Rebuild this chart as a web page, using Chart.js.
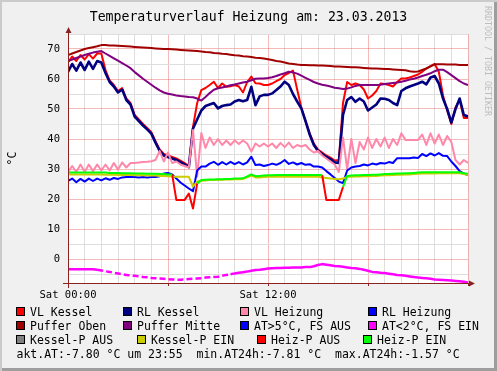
<!DOCTYPE html>
<html>
<head>
<meta charset="utf-8">
<script src="https://cdn.jsdelivr.net/npm/chart.js@4/dist/chart.umd.min.js"></script>
<style>
body { margin: 0; background: #f0f0f0; }
#wrap { position: relative; width: 497px; height: 371px; background: #f0f0f0;
  box-shadow: inset 2px 2px 0 #cbcbcb, inset -3px -3px 0 #9e9e9e;
  font-family: "DejaVu Sans Mono", monospace; color: #000; overflow: hidden; }
#chart { position: absolute; left: 0; top: 0; }
#title { position: absolute; left: 0; top: 9.7px; width: 497px; text-align: center;
  font-size: 13.2px; line-height: 14px; white-space: pre; }
#mark { position: absolute; left: 483px; top: 6px; writing-mode: vertical-rl;
  font-size: 8.3px; line-height: 9px; color: #bdbdbd; white-space: pre; }
.item { position: absolute; font-size: 11.5px; line-height: 12px; white-space: pre; }
.sw { position: absolute; width: 7px; height: 7px; border: 1px solid #000; }
</style>
</head>
<body>
<div id="wrap">
  <canvas id="chart" width="497" height="371"></canvas>
  <div id="title">Temperaturverlauf Heizung am: 23.03.2013</div>
  <div id="mark">RRDTOOL / TOBI OETIKER</div>
  <div id="legend"></div>
</div>
<script>
// Stunden 0..24 im 15-Minuten-Raster
const hours = Array.from({ length: 97 }, (_, i) => i / 4);

const vlKessel = [65.5, 67.5, 66.0, 68.0, 66.5, 68.3, 66.8, 68.5,
  68.5, 63.0, 59.5, 58.0, 56.0, 57.0, 53.5, 52.0,
  48.0, 46.5, 45.0, 43.7, 42.3, 39.3, 36.5, 35.0,
  34.5, 34.0, 33.5, 32.8, 32.0, 31.0, 44.0, 52.0,
  56.3, 57.0, 58.0, 59.1, 57.0, 58.5, 57.4, 57.6,
  58.0, 57.5, 55.5, 59.0, 60.8, 58.6, 58.5, 58.0,
  58.0, 58.5, 59.3, 60.0, 61.3, 62.0, 62.8, 56.5,
  50.5, 46.0, 42.0, 38.5, 36.5, 35.5, 34.5, 33.8,
  32.8, 33.0, 52.0, 59.0, 58.0, 58.5, 58.0, 56.5,
  53.5, 54.5, 56.0, 58.5, 58.3, 58.0, 57.5, 59.0,
  60.2, 60.2, 60.5, 61.0, 61.5, 62.4, 63.5, 64.3,
  65.0, 62.4, 54.5, 49.5, 45.0, 50.5, 53.0, 47.0,
  47.0];

const rlKessel = [62.4, 65.0, 62.8, 65.5, 63.0, 65.8, 63.4, 66.0,
  65.5, 62.0, 59.0, 57.5, 55.5, 56.5, 53.0, 51.5,
  47.5, 46.0, 44.5, 43.2, 41.8, 38.8, 36.0, 34.5,
  34.0, 33.5, 33.0, 32.3, 31.5, 30.6, 43.5, 46.5,
  49.5, 51.0, 51.5, 52.0, 50.2, 51.0, 51.3, 51.5,
  52.5, 53.0, 52.6, 53.0, 57.4, 51.3, 54.2, 54.7,
  54.7, 55.2, 56.3, 57.5, 59.1, 58.0, 55.0, 52.5,
  50.2, 46.0, 41.5, 38.0, 36.0, 35.0, 34.0, 33.3,
  32.2, 32.0, 48.0, 53.0, 54.0, 52.4, 53.5, 52.5,
  49.5, 50.5, 51.5, 53.5, 53.4, 53.0, 52.0, 51.3,
  56.0, 56.9, 57.5, 58.0, 58.5, 59.1, 58.2, 60.5,
  61.0, 58.5, 53.5, 50.0, 45.5, 50.0, 53.5, 48.0,
  47.5];

const vlHeizung = [29.0, 31.0, 29.0, 31.5, 29.0, 31.5, 29.3, 31.5,
  29.5, 31.5, 29.5, 32.0, 29.8, 32.2, 30.5, 32.0,
  32.0, 32.2, 32.3, 32.4, 32.6, 33.0, 36.0, 32.5,
  35.5, 32.0, 32.5, 31.5, 31.0, 30.5, 43.0, 27.5,
  42.0, 37.0, 40.5, 38.0, 40.0, 38.0, 39.5, 38.0,
  39.5, 38.3, 39.5, 38.5, 35.8, 38.5, 37.5, 38.5,
  37.5, 38.5, 37.0, 38.7, 37.3, 38.8, 37.0, 38.0,
  37.5, 38.0, 36.5, 35.5, 36.0, 34.5, 33.5, 32.5,
  31.5, 29.0, 40.5, 30.0, 40.0, 32.0, 39.0, 36.5,
  40.5, 37.0, 40.0, 37.5, 40.5, 37.0, 40.0, 38.0,
  41.9, 39.7, 39.7, 39.7, 39.7, 41.5, 38.0, 41.9,
  38.5, 41.5, 38.0, 41.0, 39.0, 33.0, 31.5, 33.0,
  32.0];

const rlHeizung = [26.0, 26.8, 25.6, 26.7, 25.8, 26.8, 26.0, 26.8,
  26.2, 26.9, 26.4, 27.0, 26.7, 27.2, 27.3, 27.3,
  27.3, 27.2, 27.3, 27.2, 27.3, 27.3, 27.6, 28.5,
  28.7, 28.2, 26.8, 25.5, 24.5, 23.5, 22.6, 29.5,
  30.8, 30.8, 31.8, 32.4, 31.4, 32.3, 31.5, 32.4,
  31.6, 32.3, 31.5, 32.2, 34.1, 31.3, 31.5, 31.0,
  31.3, 31.8, 31.4, 32.0, 33.0, 31.7, 32.2, 31.5,
  32.0, 31.4, 31.6, 30.8, 30.8, 30.5, 29.3, 28.2,
  27.0, 25.8, 25.3, 29.5, 30.5, 30.8, 31.0, 31.5,
  31.2, 31.8, 31.5, 32.0, 31.8, 32.3, 32.0, 33.6,
  33.6, 33.6, 33.6, 33.8, 33.7, 35.0, 34.3, 35.2,
  34.5, 35.3, 34.4, 34.3, 32.5, 31.0, 29.3, 28.5,
  28.0];

const pufferOben = [68.0, 68.5, 69.0, 69.5, 70.0, 70.3, 70.6, 70.9,
  71.3, 71.3, 71.2, 71.2, 71.1, 71.0, 70.9, 70.8,
  70.7, 70.6, 70.5, 70.4, 70.3, 70.2, 70.1, 70.0,
  70.0, 69.9, 69.8, 69.7, 69.6, 69.5, 69.4, 69.3,
  69.2, 69.0, 68.9, 68.7, 68.6, 68.4, 68.3, 68.1,
  67.9, 67.8, 67.6, 67.5, 67.3, 67.1, 67.0, 66.8,
  66.6, 66.3, 66.0, 65.8, 65.5, 65.2, 65.0, 64.8,
  64.7, 64.7, 64.6, 64.6, 64.5, 64.5, 64.4, 64.3,
  64.2, 64.2, 64.1, 64.0, 63.9, 63.9, 63.8, 63.7,
  63.6, 63.5, 63.5, 63.4, 63.3, 63.3, 63.2, 63.1,
  63.0, 62.9, 62.6, 62.4, 62.5, 63.0, 63.5, 64.2,
  64.9, 64.9, 64.9, 64.8, 64.8, 64.8, 64.7, 64.7,
  64.7];

const pufferMitte = [66.0, 66.5, 67.0, 67.5, 68.0, 68.4, 68.8, 69.1,
  69.3, 68.5, 67.7, 66.9, 66.1, 65.3, 64.5, 63.6,
  62.3, 61.2, 60.1, 59.1, 58.1, 57.1, 56.2, 55.5,
  55.1, 54.8, 54.5, 54.3, 54.2, 54.0, 53.9, 53.5,
  52.8, 54.0, 55.3, 56.4, 56.9, 57.2, 57.5, 57.9,
  58.2, 58.5, 58.8, 59.1, 59.6, 60.1, 60.2, 60.2,
  60.3, 60.6, 61.0, 61.5, 61.9, 62.4, 62.2, 61.8,
  61.1, 60.4, 59.7, 59.0, 58.5, 58.1, 57.8, 57.5,
  57.1, 56.9, 56.7, 56.8, 57.2, 57.7, 58.0, 58.0,
  58.0, 58.0, 58.0, 58.1, 58.3, 58.5, 58.7, 58.8,
  59.1, 59.4, 59.8, 60.1, 60.5, 61.0, 61.4, 61.9,
  62.6, 63.1, 63.1, 62.3, 61.3, 60.3, 59.3, 58.5,
  58.0];

const atUnter2 = [-3.4, -3.4, -3.4, -3.4, -3.4, -3.4, -3.4, -3.6,
  -3.8, -4.1, -4.3, -4.6, -4.8, -5.1, -5.3, -5.5,
  -5.6, -5.8, -6.0, -6.1, -6.3, -6.4, -6.5, -6.6,
  -6.7, -6.8, -6.9, -6.9, -6.8, -6.7, -6.6, -6.5,
  -6.4, -6.2, -6.1, -6.0, -5.9, -5.6, -5.3, -5.1,
  -4.8, -4.6, -4.4, -4.2, -3.9, -3.7, -3.6, -3.4,
  -3.2, -3.1, -3.0, -3.0, -2.9, -2.9, -2.8, -2.8,
  -2.8, -2.7, -2.7, -2.4, -2.0, -1.7, -1.9, -2.1,
  -2.3, -2.4, -2.6, -2.8, -3.0, -3.1, -3.3, -3.6,
  -3.9, -4.3, -4.4, -4.6, -4.7, -4.9, -5.1, -5.3,
  -5.4, -5.6, -5.8, -6.0, -6.2, -6.3, -6.4, -6.6,
  -6.8, -6.9, -7.0, -7.1, -7.2, -7.3, -7.4, -7.6,
  -7.8];

const kesselPEin = [28.2, 28.2, 28.2, 28.2, 28.2, 28.2, 28.2, 28.2,
  28.2, 28.1, 28.1, 28.1, 28.0, 28.0, 28.0, 28.0,
  27.9, 27.9, 27.9, 27.8, 27.8, 27.8, 27.7, 27.7,
  27.6, 27.5, 27.4, 27.4, 27.4, 27.4, 24.1, 25.8,
  26.1, 26.2, 26.3, 26.3, 26.4, 26.4, 26.5, 26.5,
  26.6, 26.6, 26.7, 27.2, 27.8, 27.2, 27.2, 27.3,
  27.4, 27.4, 27.4, 27.4, 27.4, 27.4, 27.4, 27.4,
  27.4, 27.4, 27.4, 27.4, 27.4, 27.2, 27.0, 26.8,
  26.7, 26.6, 26.8, 27.4, 27.4, 27.5, 27.5, 27.6,
  27.6, 27.7, 27.7, 27.8, 27.9, 27.9, 28.0, 28.1,
  28.1, 28.2, 28.2, 28.3, 28.4, 28.5, 28.5, 28.5,
  28.5, 28.6, 28.6, 28.6, 28.6, 28.6, 28.6, 28.3,
  28.0];

const heizPAus = [null, null, null, null, null, null, null, null,
  null, null, null, null, null, null, null, null,
  null, null, null, null, null, null, null, null,
  null, 28.2, 19.7, 19.7, 19.7, 21.8, 16.8, 25.2,
  null, null, null, null, null, null, null, null,
  null, null, null, null, null, null, null, null,
  null, null, null, null, null, null, null, null,
  null, null, null, null, null, 28.0, 19.7, 19.7,
  19.7, 19.7, 24.0, null, null, null, null, null,
  null, null, null, null, null, null, null, null,
  null, null, null, null, null, null, null, null,
  null, null, null, null, null, null, null, null,
  null];

const heizPEin = [28.8, 28.8, 28.8, 28.8, 28.8, 28.8, 28.8, 28.8,
  28.8, 28.8, 28.7, 28.7, 28.7, 28.6, 28.6, 28.6,
  28.5, 28.5, 28.5, 28.4, 28.4, 28.4, 28.3, 28.3,
  28.2, 28.2, null, null, null, null, null, 25.2,
  26.3, 26.4, 26.5, 26.5, 26.6, 26.6, 26.7, 26.7,
  26.8, 26.8, 26.9, 27.5, 28.2, 27.6, 27.7, 27.8,
  27.9, 27.9, 28.0, 28.0, 28.0, 28.0, 28.0, 28.0,
  28.0, 28.0, 28.0, 28.0, 28.0, 28.0, null, null,
  null, null, 24.0, 27.7, 27.8, 27.9, 27.9, 28.0,
  28.0, 28.1, 28.1, 28.2, 28.3, 28.3, 28.4, 28.5,
  28.5, 28.6, 28.6, 28.7, 28.8, 28.9, 28.9, 28.9,
  28.9, 28.9, 28.9, 28.9, 28.9, 28.9, 28.9, 28.6,
  28.4];

const xLabels = { 0: "Sat 00:00", 12: "Sat 12:00" };

// Legende wie bei rrdtool: [Text, Farbe, Kästchen-x]
const legendRows = [
  [["VL Kessel", "#ff0000", 16], ["RL Kessel", "#000080", 123], ["VL Heizung", "#ff88aa", 240], ["RL Heizung", "#0000ff", 368]],
  [["Puffer Oben", "#a00000", 16], ["Puffer Mitte", "#800080", 123], ["AT>5°C, FS AUS", "#0000ff", 240], ["AT<2°C, FS EIN", "#ff00ff", 368]],
  [["Kessel-P AUS", "#808080", 16], ["Kessel-P EIN", "#cccc00", 137], ["Heiz-P AUS", "#ff0000", 257], ["Heiz-P EIN", "#00ff00", 363]]
];
const infoLine = "akt.AT:-7.80 °C um 23:55  min.AT24h:-7.81 °C  max.AT24h:-1.57 °C";

const legend = document.getElementById("legend");
legendRows.forEach((row, r) => {
  row.forEach(([text, color, x]) => {
    const sw = document.createElement("div");
    sw.className = "sw";
    sw.style.left = x + "px";
    sw.style.top = (307 + r * 14.2) + "px";
    sw.style.background = color;
    legend.appendChild(sw);
    const t = document.createElement("div");
    t.className = "item";
    t.style.left = (x + 14) + "px";
    t.style.top = (305.7 + r * 14.2) + "px";
    t.textContent = text;
    legend.appendChild(t);
  });
});
const info = document.createElement("div");
info.className = "item";
info.style.left = "16.5px";
info.style.top = "347.7px";
info.textContent = infoLine;
legend.appendChild(info);

const lines = [
  ["VL Kessel", vlKessel, "#ff0000", 2],
  ["RL Kessel", rlKessel, "#000080", 2.6],
  ["VL Heizung", vlHeizung, "#ff88aa", 2],
  ["RL Heizung", rlHeizung, "#0000ff", 2],
  ["Puffer Oben", pufferOben, "#a00000", 2],
  ["Puffer Mitte", pufferMitte, "#800080", 2],
  ["AT<2°C, FS EIN", atUnter2, "#ff00ff", 2.5],
  ["Kessel-P EIN", kesselPEin, "#cccc00", 2],
  ["Heiz-P AUS", heizPAus, "#ff0000", 2],
  ["Heiz-P EIN", heizPEin, "#00ff00", 2]
];

const majorGrid = "rgba(225, 60, 60, 0.35)";
const minorGrid = "#dedede";
const axisColor = "#8b2222";

const rrdFrame = {
  id: "rrdFrame",
  beforeDraw(chart) {
    const { ctx, chartArea: a } = chart;
    ctx.save();
    ctx.fillStyle = "#ffffff";
    ctx.fillRect(a.left, a.top, a.right - a.left, a.bottom - a.top);
    ctx.restore();
  },
  afterDraw(chart) {
    const { ctx, chartArea: a } = chart;
    const xs = chart.scales.x;
    ctx.save();
    ctx.strokeStyle = axisColor;
    ctx.fillStyle = axisColor;
    ctx.lineWidth = 1;
    ctx.beginPath();
    ctx.moveTo(a.left - 5, a.bottom + 0.5);
    ctx.lineTo(a.right + 2, a.bottom + 0.5);
    ctx.moveTo(a.left + 0.5, a.bottom + 5);
    ctx.lineTo(a.left + 0.5, a.top - 2);
    for (let h = 0; h <= 24; h += 6) {
      const px = Math.round(xs.getPixelForValue(h)) + 0.5;
      ctx.moveTo(px, a.bottom);
      ctx.lineTo(px, a.bottom + 3);
    }
    ctx.stroke();
    ctx.beginPath();
    ctx.moveTo(a.right + 1, a.bottom - 2.5);
    ctx.lineTo(a.right + 7, a.bottom + 0.5);
    ctx.lineTo(a.right + 1, a.bottom + 3.5);
    ctx.closePath();
    ctx.moveTo(a.left - 2.5, a.top - 1);
    ctx.lineTo(a.left + 0.5, a.top - 7);
    ctx.lineTo(a.left + 3.5, a.top - 1);
    ctx.closePath();
    ctx.fill();
    ctx.restore();
  }
};

Chart.defaults.font.family = "DejaVu Sans Mono";
Chart.defaults.color = "#000";

new Chart(document.getElementById("chart"), {
  type: "line",
  data: {
    datasets: lines.map(([label, values, color, width], i) => ({
      label: label,
      data: values.map((v, k) => ({ x: hours[k], y: v })),
      borderColor: color,
      backgroundColor: color,
      borderWidth: width,
      borderJoinStyle: "round",
      pointRadius: 0,
      tension: 0,
      spanGaps: false,
      order: -i,
      segment: label.startsWith("AT<2") ? {
        borderDash: c => (c.p0.parsed.x >= 1.75 && c.p0.parsed.x < 9.75) ? [6, 3] : undefined
      } : undefined
    }))
  },
  options: {
    responsive: false,
    animation: false,
    events: [],
    layout: { padding: { left: 0, top: 34, right: 29, bottom: 68 } },
    plugins: { legend: { display: false }, tooltip: { enabled: false } },
    scales: {
      x: {
        type: "linear",
        min: 0,
        max: 24,
        afterBuildTicks: s => { s.ticks = hours.filter(h => h % 1 === 0).map(h => ({ value: h })); },
        afterFit: s => { s.height = 20; },
        border: { display: false },
        grid: {
          drawTicks: false,
          color: c => (c.tick && c.tick.value % 6 === 0) ? majorGrid : minorGrid
        },
        ticks: {
          autoSkip: false,
          maxRotation: 0,
          padding: 6,
          font: { size: 10.5 },
          callback: v => xLabels[v] || ""
        }
      },
      y: {
        min: -8,
        max: 75,
        afterBuildTicks: s => {
          const t = [];
          for (let v = -5; v <= 75; v += 5) t.push({ value: v });
          s.ticks = t;
        },
        afterFit: s => { s.width = 68; },
        border: { display: false },
        grid: {
          drawTicks: false,
          color: c => (c.tick && c.tick.value % 10 === 0) ? majorGrid : minorGrid
        },
        ticks: {
          autoSkip: false,
          padding: 8,
          font: { size: 10.5 },
          callback: v => (v % 10 === 0 ? String(v) : "")
        },
        title: { display: true, text: "°C", font: { size: 11.5 }, padding: { top: 6, bottom: 0 } }
      }
    }
  },
  plugins: [rrdFrame]
});
</script>
</body>
</html>
